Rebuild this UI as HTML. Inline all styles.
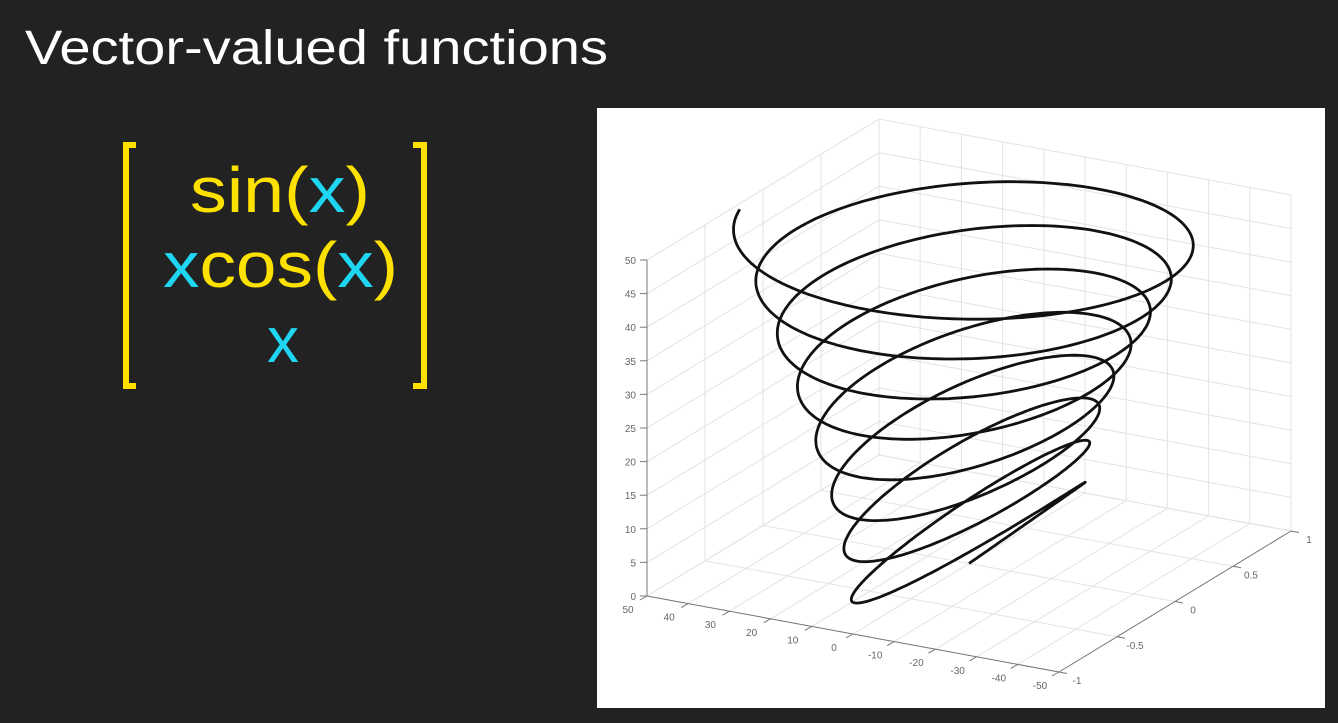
<!DOCTYPE html>
<html><head><meta charset="utf-8"><style>
html,body{margin:0;padding:0;background:#222223;width:1338px;height:723px;overflow:hidden}
svg{display:block}
</style></head><body>
<svg width="1338" height="723" viewBox="0 0 1338 723">
<rect x="0" y="0" width="1338" height="723" fill="#222223"/>
<text x="25" y="64" font-family="Liberation Sans, sans-serif" font-size="48" fill="#ffffff" textLength="583" lengthAdjust="spacingAndGlyphs">Vector-valued functions</text>
<g>
<path d="M136,145 H126 V386 H136" fill="none" stroke="#ffe100" stroke-width="6"/>
<path d="M413,145 H424 V386 H413" fill="none" stroke="#ffe100" stroke-width="6"/>
<text x="190" y="212" font-family="Liberation Sans, sans-serif" font-size="64" textLength="180" lengthAdjust="spacingAndGlyphs"><tspan fill="#ffe100">sin(</tspan><tspan fill="#1fd6f2">x</tspan><tspan fill="#ffe100">)</tspan></text>
<text x="163" y="287" font-family="Liberation Sans, sans-serif" font-size="64" textLength="235" lengthAdjust="spacingAndGlyphs"><tspan fill="#1fd6f2">x</tspan><tspan fill="#ffe100">cos(</tspan><tspan fill="#1fd6f2">x</tspan><tspan fill="#ffe100">)</tspan></text>
<text x="283" y="362" text-anchor="middle" font-family="Liberation Sans, sans-serif" font-size="64" fill="#1fd6f2">x</text>
</g>
<rect x="597" y="108" width="728" height="600" fill="#ffffff"/>
<g id="plot"></g>
</svg>
<script>
var zTicks=[0,5,10,15,20,25,30,35,40,45,50];
var cTicks=[50,40,30,20,10,0,-10,-20,-30,-40,-50];
var sTicks=[-1,-0.5,0,0.5,1];
var sTickLabels=["-1","-0.5","0","0.5","1"];
var tStart=0, tEnd=50, tSteps=1500;
var NS="http://www.w3.org/2000/svg";
var g=document.getElementById('plot');
var O=[647,596], AO=[412,76], BA=[232,-141], ZH=336;
function P(c,s,z){var a=(50-c)/100,b=(s+1)/2,h=z/50;return [O[0]+a*AO[0]+b*BA[0], O[1]+a*AO[1]+b*BA[1]-h*ZH];}
function line(p,q,col,w,name){var l=document.createElementNS(NS,'line');l.setAttribute('x1',p[0].toFixed(1));l.setAttribute('y1',p[1].toFixed(1));l.setAttribute('x2',q[0].toFixed(1));l.setAttribute('y2',q[1].toFixed(1));l.setAttribute('stroke',col);l.setAttribute('stroke-width',w);


g.appendChild(l);}
function text(x,y,s,anchor,name){var t=document.createElementNS(NS,'text');t.setAttribute('x',x);t.setAttribute('y',y);t.setAttribute('font-family','Liberation Sans, sans-serif');t.setAttribute('font-size','10');t.setAttribute('fill','#666');t.setAttribute('text-anchor',anchor);t.textContent=s;


g.appendChild(t);}
var GC='#e3e3e3';
cTicks.forEach(function(c){line(P(c,-1,0),P(c,1,0),GC,1,'floor-grid');line(P(c,1,0),P(c,1,50),GC,1,'back-wall-grid');});
sTicks.forEach(function(s){line(P(50,s,0),P(-50,s,0),GC,1,'floor-grid');line(P(50,s,0),P(50,s,50),GC,1,'left-wall-grid');});
zTicks.forEach(function(z){line(P(50,-1,z),P(50,1,z),GC,1,'left-wall-grid');line(P(50,1,z),P(-50,1,z),GC,1,'back-wall-grid');});
var AX='#777';
line(P(50,-1,0),P(50,-1,50),AX,1,'z-axis');
line(P(50,-1,0),P(-50,-1,0),AX,1,'xcos-axis');
line(P(-50,-1,0),P(-50,1,0),AX,1,'sin-axis');
zTicks.forEach(function(z){var p=P(50,-1,z);line(p,[p[0]-7,p[1]],AX,1,'z-tick');text(p[0]-11,p[1]+4,String(z),'end','z-tick-label');});
cTicks.forEach(function(c){var p=P(c,-1,0);line(p,[p[0]-7,p[1]+4],AX,1,'xcos-tick');text(p[0]-19,p[1]+17,String(c),'middle','xcos-tick-label');});
sTicks.forEach(function(s,i){var p=P(-50,s,0);line(p,[p[0]+8,p[1]+1.5],AX,1,'sin-tick');text(p[0]+18,p[1]+12,sTickLabels[i],'middle','sin-tick-label');});
var d='';
for(var i=0;i<=tSteps;i++){var t=tStart+(tEnd-tStart)*i/tSteps;var p=P(t*Math.cos(t),Math.sin(t),t);d+=(i?'L':'M')+p[0].toFixed(1)+','+p[1].toFixed(1);}
var path=document.createElementNS(NS,'path');path.setAttribute('d',d);path.setAttribute('fill','none');path.setAttribute('stroke','#111');path.setAttribute('stroke-width','2.8');path.setAttribute('stroke-linejoin','round');


g.appendChild(path);
</script>
</body></html>
